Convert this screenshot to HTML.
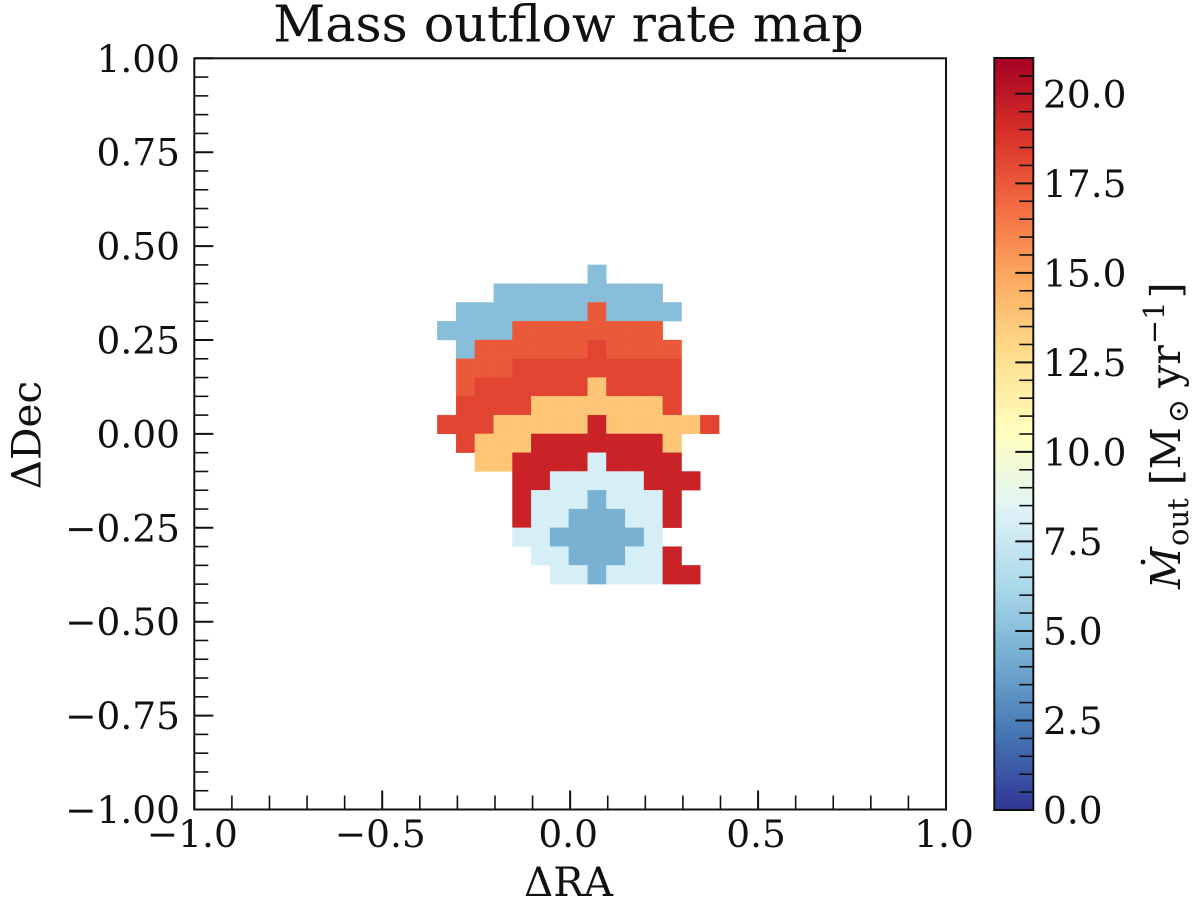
<!DOCTYPE html>
<html lang="en">
<head>
<meta charset="utf-8">
<title>Mass outflow rate map</title>
<style>
html,body{margin:0;padding:0;background:#fff;width:1200px;height:906px;overflow:hidden}
svg{display:block}
text{font-family:"DejaVu Serif","Liberation Serif",serif;fill:#111}
</style>
</head>
<body>
<svg id="chart" xmlns="http://www.w3.org/2000/svg" width="1200" height="906" viewBox="0 0 1200 906">
  <defs>
    <linearGradient id="cbar-gradient" x1="0" y1="1" x2="0" y2="0"></linearGradient>
  </defs>
  <text x="568.5" y="41.5" font-size="50.8" text-anchor="middle">Mass outflow rate map</text>
  <g id="cells"></g>
  <g id="ticks"></g>
  <rect x="194.3" y="58.3" width="751.7" height="751.2" fill="none" stroke="#111" stroke-width="2"></rect>
  <g id="tick-labels"></g>
  <text x="568.5" y="896" font-size="40.5" text-anchor="middle">ΔRA</text>
  <text transform="translate(40.7 435) rotate(-90)" font-size="40.5" text-anchor="middle">ΔDec</text>
  <rect x="994.3" y="58" width="39" height="752" fill="url(#cbar-gradient)"></rect>
  <g id="cbar-ticks"></g>
  <rect x="994.3" y="58" width="39" height="752" fill="none" stroke="#111" stroke-width="2"></rect>
  <g id="cbar-labels"></g>
  <g transform="translate(1180 589) rotate(-90)">
    <text x="0" y="0" font-size="41"><tspan font-style="italic">M</tspan><tspan font-size="29" dy="8" dx="1">out</tspan><tspan dy="-8" dx="13">[M</tspan><tspan font-size="29" dy="8" dx="4">⊙</tspan><tspan dy="-8" dx="11">yr</tspan><tspan font-size="29" dy="-16" dx="1">−1</tspan><tspan dy="16" dx="3">]</tspan></text>
    <circle cx="27" cy="-37" r="2.4" fill="#111"></circle>
  </g>
</svg>
<script>
const NS = 'http://www.w3.org/2000/svg';

// Colour range and colormap
const valueMin = 0;
const valueMax = 21;
const colormapStops = ['#313695','#4575b4','#74add1','#abd9e9','#e0f3f8','#ffffbf','#fee090','#fdae61','#f46d43','#d73027','#a50026'];

// Heatmap bins (data coordinates) and values (Msun/yr); null = empty pixel
const binSize = 0.05;
const raBins = [-0.3535,-0.3035,-0.2535,-0.2035,-0.1535,-0.1035,-0.0535,-0.0035,0.0465,0.0965,0.1465,0.1965,0.2465,0.2965,0.3465];
const decBins = [0.45,0.40,0.35,0.30,0.25,0.20,0.15,0.10,0.05,0.00,-0.05,-0.10,-0.15,-0.20,-0.25,-0.30,-0.35];
const cellValues = [
  [null,null,null,null,null,null,null,null,5.0,null,null,null,null,null,null],
  [null,null,null,5.0,5.0,5.0,5.0,5.0,5.0,5.0,5.0,5.0,null,null,null],
  [null,5.0,5.0,5.0,5.0,5.0,5.0,5.0,17.5,5.0,5.0,5.0,5.0,null,null],
  [5.0,5.0,5.0,5.0,17.5,17.5,17.5,17.5,17.5,17.5,17.5,17.5,null,null,null],
  [null,5.0,17.5,17.5,17.5,17.5,17.5,17.5,18.2,17.5,17.5,17.5,17.5,null,null],
  [null,17.5,17.5,17.5,18.2,18.2,18.2,18.2,18.2,18.2,18.2,18.2,18.2,null,null],
  [null,17.5,18.2,18.2,18.2,18.2,18.2,18.2,13.7,18.2,18.2,18.2,18.2,null,null],
  [null,18.2,18.2,18.2,18.2,13.7,13.7,13.7,13.7,13.7,13.7,13.7,18.2,null,null],
  [18.2,18.2,18.2,13.7,13.7,13.7,13.7,13.7,19.5,13.7,13.7,13.7,13.7,13.7,18.2],
  [null,18.2,13.7,13.7,13.7,19.5,19.5,19.5,19.5,19.5,19.5,19.5,13.7,null,null],
  [null,null,13.7,13.7,19.5,19.5,19.5,19.5,8.0,19.5,19.5,19.5,19.5,null,null],
  [null,null,null,null,19.5,19.5,8.0,8.0,8.0,8.0,8.0,19.5,19.5,19.5,null],
  [null,null,null,null,19.5,8.0,8.0,8.0,4.4,8.0,8.0,8.0,19.5,null,null],
  [null,null,null,null,19.5,8.0,8.0,4.4,4.4,4.4,8.0,8.0,19.5,null,null],
  [null,null,null,null,8.0,8.0,4.4,4.4,4.4,4.4,4.4,8.0,null,null,null],
  [null,null,null,null,null,8.0,8.0,4.4,4.4,4.4,8.0,8.0,19.5,null,null],
  [null,null,null,null,null,null,8.0,8.0,4.4,8.0,8.0,8.0,19.5,19.5,null]
];

// Tick values and labels
const xMajorTicks = [-1.0,-0.5,0.0,0.5,1.0];
const xTickLabels = ['−1.0','−0.5','0.0','0.5','1.0'];
const xMinorStep = 0.1;
const yMajorTicks = [-1.0,-0.75,-0.5,-0.25,0.0,0.25,0.5,0.75,1.0];
const yTickLabels = ['−1.00','−0.75','−0.50','−0.25','0.00','0.25','0.50','0.75','1.00'];
const yMinorStep = 0.05;
const cbarMajorTicks = [0,2.5,5,7.5,10,12.5,15,17.5,20];
const cbarTickLabels = ['0.0','2.5','5.0','7.5','10.0','12.5','15.0','17.5','20.0'];
const cbarMinorStep = 0.5;

// Axis functions
function xScale(v){ return 194.3 + (v + 1) / 2 * 751.7; }
function yScale(v){ return 809.5 - (v + 1) / 2 * 751.2; }
function cScale(v){ return 810 - (v - valueMin) / (valueMax - valueMin) * 752; }

function hexToRgb(h){ return [1,3,5].map(function(i){ return parseInt(h.substr(i,2),16); }); }
function colorFor(v){
  const t = Math.min(1, Math.max(0, (v - valueMin) / (valueMax - valueMin))) * (colormapStops.length - 1);
  const i = Math.min(colormapStops.length - 2, Math.floor(t));
  const a = hexToRgb(colormapStops[i]);
  const b = hexToRgb(colormapStops[i + 1]);
  const f = t - i;
  return 'rgb(' + a.map(function(c, k){ return Math.round(c + (b[k] - c) * f); }).join(',') + ')';
}
function svgEl(tag, attrs, parent){
  const el = document.createElementNS(NS, tag);
  Object.keys(attrs).forEach(function(k){ el.setAttribute(k, attrs[k]); });
  parent.appendChild(el);
  return el;
}
function isMajor(v, majors){ return majors.some(function(m){ return Math.abs(m - v) < 1e-6; }); }

// Colorbar gradient
const gradient = document.getElementById('cbar-gradient');
for (let i = 0; i <= 64; i++) {
  const stop = svgEl('stop', {offset: (i / 64), 'stop-color': colorFor(valueMin + (valueMax - valueMin) * i / 64)}, gradient);
  
  
}

// Heatmap cells
const cellsGroup = document.getElementById('cells');
cellValues.forEach(function(row, r){
  row.forEach(function(value, c){
    if (value === null) return;
    const x0 = xScale(raBins[c]);
    const x1 = xScale(raBins[c] + binSize);
    const y0 = yScale(decBins[r]);
    const y1 = yScale(decBins[r] - binSize);
    const cell = svgEl('rect', {x: x0, y: y0, width: x1 - x0, height: y1 - y0, fill: colorFor(value), stroke: colorFor(value), 'stroke-width': 0.3}, cellsGroup);
    
    
  });
});

// Axis ticks
const ticksGroup = document.getElementById('ticks');
for (let i = 0; i <= 20; i++) {
  const v = -1 + i * xMinorStep;
  const major = isMajor(v, xMajorTicks);
  const px = xScale(v);
  const tick = svgEl('line', {x1: px, x2: px, y1: 809.5, y2: 809.5 - (major ? 19 : 14), stroke: '#111', 'stroke-width': major ? 2 : 1.6}, ticksGroup);
  
  
}
for (let i = 0; i <= 40; i++) {
  const v = -1 + i * yMinorStep;
  const major = isMajor(v, yMajorTicks);
  const py = yScale(v);
  const tick = svgEl('line', {x1: 194.3, x2: 194.3 + (major ? 19 : 14), y1: py, y2: py, stroke: '#111', 'stroke-width': major ? 2 : 1.6}, ticksGroup);
  
  
}

// Axis tick labels
const labelsGroup = document.getElementById('tick-labels');
xMajorTicks.forEach(function(v, i){
  const label = svgEl('text', {x: xScale(v) - 2, y: 847, 'font-size': 37.5, 'text-anchor': 'middle'}, labelsGroup);
  label.textContent = xTickLabels[i];
  
  
});
yMajorTicks.forEach(function(v, i){
  const label = svgEl('text', {x: 180, y: yScale(v) + 13.5, 'font-size': 37.5, 'text-anchor': 'end'}, labelsGroup);
  label.textContent = yTickLabels[i];
  
  
});

// Colorbar ticks and labels
const cbarTicksGroup = document.getElementById('cbar-ticks');
for (let i = 0; i * cbarMinorStep <= valueMax; i++) {
  const v = i * cbarMinorStep;
  const major = isMajor(v, cbarMajorTicks);
  const py = cScale(v);
  const tick = svgEl('line', {x1: 1033.3, x2: 1033.3 - (major ? 18 : 14), y1: py, y2: py, stroke: '#111', 'stroke-width': major ? 2 : 1.6}, cbarTicksGroup);
  
  
}
const cbarLabelsGroup = document.getElementById('cbar-labels');
cbarMajorTicks.forEach(function(v, i){
  const label = svgEl('text', {x: 1043, y: cScale(v) + 13.5, 'font-size': 37.5}, cbarLabelsGroup);
  label.textContent = cbarTickLabels[i];
  
  
});
</script>
</body>
</html>
